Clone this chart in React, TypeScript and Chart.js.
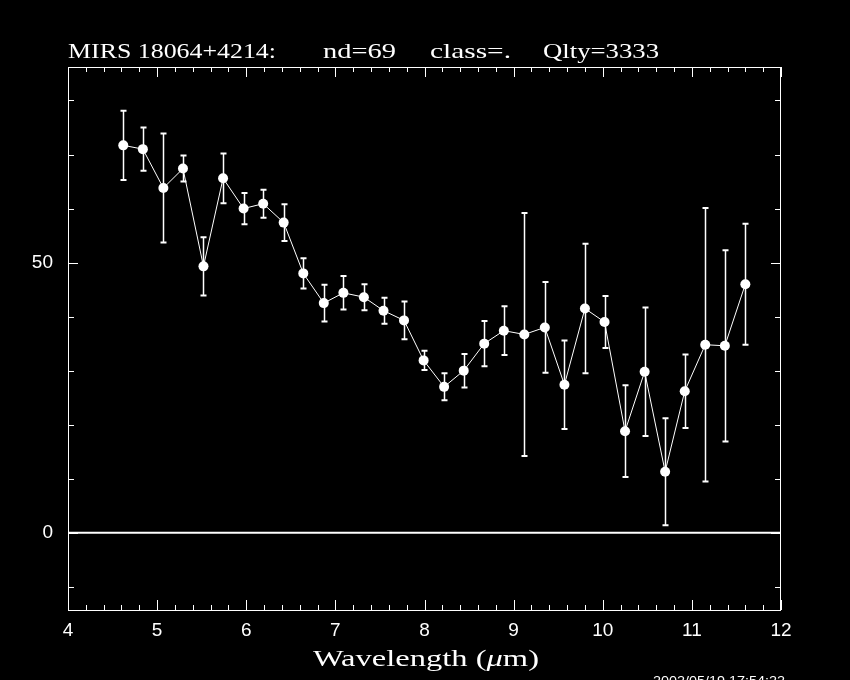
import React, { useEffect, useRef } from "react";
import { Chart, registerables } from "chart.js";

Chart.register(...registerables);

// ---- Data ----
const wavelength = [
  4.62, 4.84, 5.07, 5.29, 5.52, 5.74, 5.97, 6.19, 6.42, 6.64, 6.87, 7.09, 7.32, 7.54, 7.77, 7.99,
  8.22, 8.44, 8.67, 8.89, 9.12, 9.35, 9.57, 9.8, 10.02, 10.25, 10.47, 10.7, 10.92, 11.15, 11.37, 11.6,
];
const flux = [
  71.7, 71.0, 63.8, 67.4, 49.3, 65.6, 60.0, 60.9, 57.4, 48.0, 42.5, 44.4, 43.6, 41.1, 39.3, 31.9,
  27.0, 30.0, 35.0, 37.4, 36.7, 38.0, 27.4, 41.5, 39.0, 18.8, 29.8, 11.3, 26.2, 34.8, 34.6, 46.0,
];
const fluxErr = [
  6.4, 4.0, 10.1, 2.4, 5.4, 4.6, 2.9, 2.6, 3.4, 2.8, 3.4, 3.1, 2.4, 2.4, 3.5, 1.8,
  2.5, 3.1, 4.2, 4.5, 22.5, 8.4, 8.2, 12.0, 4.8, 8.5, 11.9, 9.9, 6.8, 25.3, 17.7, 11.2,
];
const xTickLabels = [4, 5, 6, 7, 8, 9, 10, 11, 12];
const yTickLabels = [0, 50];
const yMinorTicks = [-10, 0, 10, 20, 30, 40, 50, 60, 70, 80];
const titleParts = ["MIRS 18064+4214:", "nd=69", "class=.", "Qlty=3333"];
const xTitleParts = ["Wavelength (", "\u03BC", "m)"];
const dateStamp = "2002/05/19 17:54:22";

const X_MIN = 4;
const X_MAX = 12;
const Y_MIN = -14.3;
const Y_MAX = 86.2;

// title segment placements [x, width]
const titleLayout: [number, number][] = [
  [68, 208],
  [323, 73],
  [430, 81],
  [543, 116],
];

function drawFitted(
  ctx: CanvasRenderingContext2D,
  parts: { text: string; font: string }[],
  x: number,
  baseline: number,
  width: number,
  sy = 1
) {
  const widths = parts.map((p) => {
    ctx.font = p.font;
    return ctx.measureText(p.text).width;
  });
  const total = widths.reduce((a, b) => a + b, 0);
  const sx = width / total;
  ctx.save();
  ctx.translate(x, baseline);
  ctx.scale(sx, sy);
  ctx.textAlign = "left";
  ctx.textBaseline = "alphabetic";
  let cx = 0;
  parts.forEach((p, i) => {
    ctx.font = p.font;
    ctx.fillText(p.text, cx, 0);
    cx += widths[i];
  });
  ctx.restore();
}

const framePlugin = {
  id: "irasFrame",
  beforeDraw(chart: any) {
    const ctx = chart.ctx;
    ctx.save();
    ctx.fillStyle = "#000";
    ctx.fillRect(0, 0, chart.width, chart.height);
    ctx.restore();
  },
  beforeDatasetsDraw(chart: any) {
    const ctx: CanvasRenderingContext2D = chart.ctx;
    const { left, right, top, bottom } = chart.chartArea;
    const xs = chart.scales.x;
    const ys = chart.scales.y;
    ctx.save();
    // zero line
    const y0 = ys.getPixelForValue(0);
    ctx.strokeStyle = "#fff";
    ctx.lineWidth = 2;
    ctx.beginPath();
    ctx.moveTo(left, y0);
    ctx.lineTo(right, y0);
    ctx.stroke();
    // error bars
    ctx.beginPath();
    ctx.rect(left, top, right - left, bottom - top);
    ctx.clip();
    wavelength.forEach((w, i) => {
      const px = Math.round(xs.getPixelForValue(w)) + 0.5;
      const yHi = ys.getPixelForValue(flux[i] + fluxErr[i]);
      const yLo = ys.getPixelForValue(flux[i] - fluxErr[i]);
      ctx.lineWidth = 1.5;
      ctx.beginPath();
      ctx.moveTo(px, yHi);
      ctx.lineTo(px, yLo);
      ctx.stroke();
      ctx.lineWidth = 2;
      ctx.beginPath();
      ctx.moveTo(px - 3, yHi);
      ctx.lineTo(px + 3, yHi);
      ctx.moveTo(px - 3, yLo);
      ctx.lineTo(px + 3, yLo);
      ctx.stroke();
    });
    ctx.restore();
  },
  afterDraw(chart: any) {
    const ctx: CanvasRenderingContext2D = chart.ctx;
    const { left, right, top, bottom } = chart.chartArea;
    const xs = chart.scales.x;
    const ys = chart.scales.y;
    ctx.save();
    ctx.strokeStyle = "#fff";
    ctx.fillStyle = "#fff";
    ctx.lineWidth = 1;
    // frame
    ctx.strokeRect(left + 0.5, top + 0.5, right - left - 1, bottom - top);
    // x ticks (minor every 0.2, major at integers)
    ctx.beginPath();
    for (let i = 0; i <= 40; i++) {
      const v = X_MIN + i * 0.2;
      const px = Math.round(xs.getPixelForValue(v)) + 0.5;
      const len = i % 5 === 0 ? 10 : 5;
      ctx.moveTo(px, bottom);
      ctx.lineTo(px, bottom - len);
      ctx.moveTo(px, top);
      ctx.lineTo(px, top + len);
    }
    // y ticks
    yMinorTicks.forEach((v) => {
      const py = Math.round(ys.getPixelForValue(v)) + 0.5;
      const len = yTickLabels.includes(v) ? 10 : 6;
      ctx.moveTo(left, py);
      ctx.lineTo(left + len, py);
      ctx.moveTo(right, py);
      ctx.lineTo(right - len, py);
    });
    ctx.stroke();

    // title
    titleParts.forEach((t, i) => {
      const [tx, tw] = titleLayout[i];
      drawFitted(ctx, [{ text: t, font: "21px 'Liberation Serif'" }], tx, 58, tw);
    });
    // x axis title
    drawFitted(
      ctx,
      [
        { text: xTitleParts[0], font: "24px 'Liberation Serif'" },
        { text: xTitleParts[1], font: "italic 24px 'Liberation Serif'" },
        { text: xTitleParts[2], font: "24px 'Liberation Serif'" },
      ],
      313,
      666,
      226
    );
    // date stamp
    drawFitted(ctx, [{ text: dateStamp, font: "12px 'Liberation Sans'" }], 653, 685, 132);
    ctx.restore();
  },
};

export default function App() {
  const ref = useRef<HTMLCanvasElement>(null);
  useEffect(() => {
    document.body.style.margin = "0";
    document.body.style.background = "#000";
    if (!ref.current) return;
    const chart = new Chart(ref.current, {
      type: "line",
      data: {
        datasets: [
          {
            data: wavelength.map((w, i) => ({ x: w, y: flux[i] })),
            borderColor: "#fff",
            borderWidth: 1,
            pointRadius: 5,
            pointBackgroundColor: "#fff",
            pointBorderColor: "#fff",
            pointBorderWidth: 0,
            tension: 0,
            fill: false,
          },
        ],
      },
      options: {
        responsive: false,
        animation: false,
        devicePixelRatio: 1,
        layout: { padding: { left: 0, top: 67, right: 69, bottom: 0 } },
        plugins: {
          legend: { display: false },
          tooltip: { enabled: false },
          title: { display: false },
        },
        scales: {
          x: {
            type: "linear",
            min: X_MIN,
            max: X_MAX,
            grid: { display: false, drawTicks: false },
            border: { display: false },
            ticks: {
              color: "#fff",
              font: { family: "'Liberation Sans'", size: 19 },
              padding: 9,
              autoSkip: false,
              maxRotation: 0,
              callback: (v: any) => String(v),
            },
            afterBuildTicks: (s: any) => {
              s.ticks = xTickLabels.map((v) => ({ value: v }));
            },
            afterFit: (s: any) => {
              s.height = 70;
            },
          },
          y: {
            type: "linear",
            min: Y_MIN,
            max: Y_MAX,
            grid: { display: false, drawTicks: false },
            border: { display: false },
            ticks: {
              color: "#fff",
              font: { family: "'Liberation Sans'", size: 19 },
              padding: 15,
              callback: (v: any) => String(v),
            },
            afterBuildTicks: (s: any) => {
              s.ticks = yTickLabels.map((v) => ({ value: v }));
            },
            afterFit: (s: any) => {
              s.width = 68;
            },
          },
        },
      } as any,
      plugins: [framePlugin],
    });
    return () => chart.destroy();
  }, []);
  return (
    <div style={{ position: "absolute", left: 0, top: 0, width: 850, height: 680, background: "#000" }}>
      <canvas ref={ref} width={850} height={680} style={{ display: "block", width: 850, height: 680 }} />
    </div>
  );
}
